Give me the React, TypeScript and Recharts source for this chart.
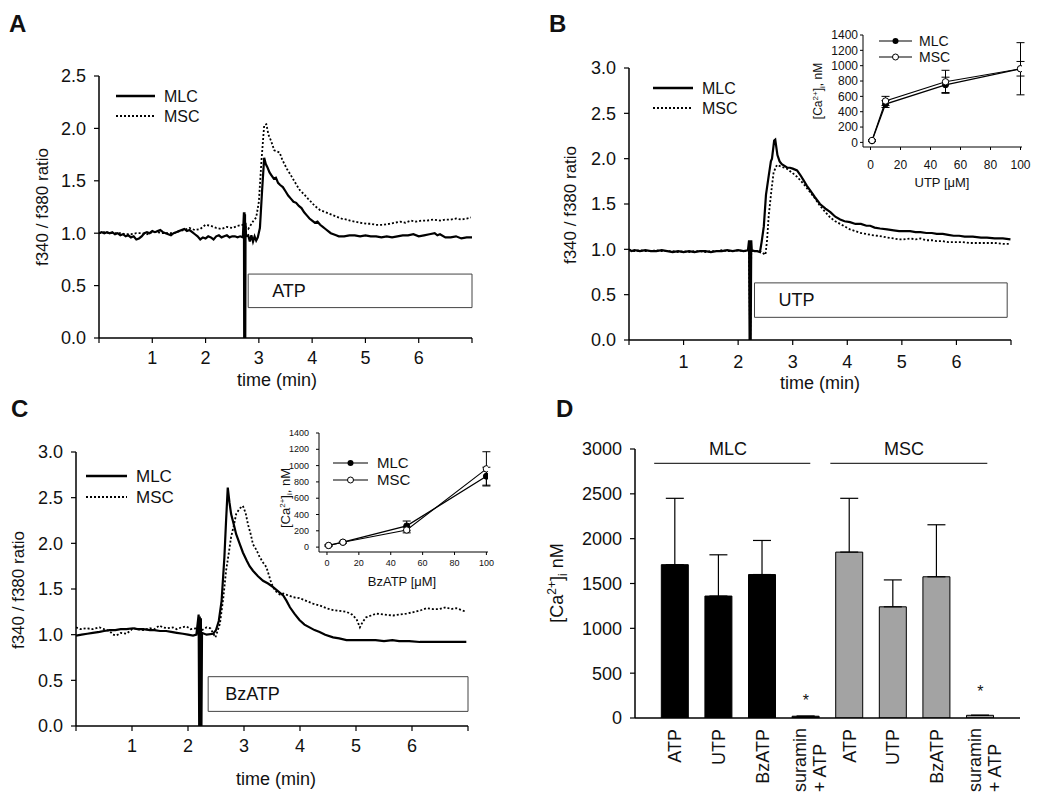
import React from "react";
import {
  LineChart,
  Line,
  XAxis,
  YAxis,
  ReferenceArea,
  ReferenceLine,
  ErrorBar,
  ComposedChart,
  Bar,
  Cell,
  Scatter,
} from "recharts";

const FONT = '"Liberation Sans", Arial, Helvetica, sans-serif';
const INK = "#111";

// ---- time courses, [time (min), f340/f380] ----
const atpMlc: [number, number][] = [
  [0, 1.0], [0.05, 1.01], [0.1, 1.0], [0.15, 1.01], [0.2, 1.0], [0.25, 1.01], [0.3, 0.99], [0.35, 1.0],
  [0.4, 0.98], [0.45, 0.99], [0.5, 0.97], [0.55, 0.98], [0.6, 0.96], [0.65, 0.97], [0.7, 0.94], [0.75, 0.95],
  [0.8, 0.97], [0.85, 1.0], [0.9, 1.01], [0.95, 1.0], [1.0, 1.02], [1.05, 1.01], [1.1, 1.02], [1.15, 1.03],
  [1.2, 1.01], [1.25, 1.0], [1.3, 0.99], [1.35, 0.98], [1.4, 1.0], [1.45, 1.01], [1.5, 1.02], [1.55, 1.03],
  [1.6, 1.04], [1.65, 1.02], [1.7, 1.03], [1.75, 1.01], [1.8, 0.99], [1.85, 0.97], [1.9, 0.94], [1.95, 0.96],
  [2.0, 0.95], [2.05, 0.97], [2.1, 0.96], [2.15, 0.94], [2.2, 0.97], [2.25, 0.98], [2.3, 0.96], [2.35, 0.97],
  [2.4, 0.98], [2.45, 0.96], [2.5, 0.97], [2.55, 0.97], [2.6, 0.96], [2.65, 0.97], [2.7, 0.96],
  [2.72, 1.2], [2.725, 0], [2.73, 1.2], [2.735, 0], [2.74, 1.18], [2.745, 0], [2.75, 1.1], [2.76, 0.97],
  [2.8, 0.98], [2.83, 0.92], [2.86, 0.98], [2.89, 0.92], [2.92, 0.97], [2.95, 0.93], [2.98, 0.96],
  [3.02, 1.05], [3.06, 1.4], [3.1, 1.72], [3.13, 1.66], [3.16, 1.63], [3.2, 1.58], [3.24, 1.55], [3.28, 1.52],
  [3.32, 1.53], [3.36, 1.48], [3.4, 1.46], [3.45, 1.44], [3.5, 1.4], [3.55, 1.36], [3.6, 1.33], [3.65, 1.3],
  [3.7, 1.29], [3.75, 1.26], [3.8, 1.24], [3.85, 1.2], [3.9, 1.17], [3.95, 1.14], [4.0, 1.12], [4.05, 1.1],
  [4.1, 1.11], [4.15, 1.08], [4.2, 1.06], [4.25, 1.04], [4.3, 1.02], [4.35, 1.0], [4.4, 0.99], [4.45, 0.98],
  [4.5, 0.97], [4.6, 0.97], [4.7, 0.98], [4.8, 0.98], [4.9, 0.97], [5.0, 0.98], [5.1, 0.97], [5.2, 0.97],
  [5.3, 0.96], [5.4, 0.97], [5.5, 0.96], [5.6, 0.97], [5.7, 0.98], [5.8, 0.98], [5.9, 0.99], [6.0, 0.97],
  [6.1, 0.98], [6.2, 0.99], [6.3, 1.0], [6.35, 0.98], [6.4, 0.99], [6.5, 0.96], [6.6, 0.96], [6.7, 0.97],
  [6.8, 0.95], [6.9, 0.96], [7.0, 0.96],
];
const atpMsc: [number, number][] = [
  [0, 1.0], [0.1, 1.01], [0.2, 1.0], [0.3, 1.0], [0.4, 1.0], [0.5, 0.99], [0.6, 0.99], [0.7, 1.0],
  [0.8, 1.0], [0.9, 0.99], [1.0, 1.01], [1.1, 1.01], [1.2, 1.0], [1.3, 1.0], [1.4, 1.0], [1.5, 1.02],
  [1.6, 1.03], [1.7, 1.05], [1.8, 1.03], [1.9, 1.04], [2.0, 1.08], [2.1, 1.07], [2.2, 1.05], [2.3, 1.04],
  [2.4, 1.06], [2.5, 1.05], [2.6, 1.07], [2.7, 1.08], [2.8, 1.04], [2.9, 1.12], [2.95, 1.15], [3.0, 1.3],
  [3.05, 1.7], [3.1, 2.03], [3.14, 2.04], [3.18, 1.94], [3.23, 1.88], [3.29, 1.79], [3.34, 1.78], [3.39, 1.77],
  [3.44, 1.7], [3.48, 1.66], [3.53, 1.61], [3.58, 1.57], [3.65, 1.51], [3.72, 1.45], [3.77, 1.41], [3.85, 1.37],
  [3.92, 1.33], [3.96, 1.31], [4.05, 1.26], [4.15, 1.22], [4.25, 1.2], [4.35, 1.18], [4.45, 1.16], [4.55, 1.14],
  [4.65, 1.13], [4.71, 1.12], [4.8, 1.11], [4.9, 1.1], [5.02, 1.09], [5.1, 1.09], [5.2, 1.08], [5.33, 1.08],
  [5.45, 1.09], [5.55, 1.1], [5.65, 1.11], [5.75, 1.1], [5.85, 1.12], [5.95, 1.11], [6.05, 1.12], [6.15, 1.12],
  [6.27, 1.13], [6.4, 1.12], [6.5, 1.13], [6.6, 1.13], [6.7, 1.14], [6.8, 1.13], [6.9, 1.14], [6.98, 1.15],
];

const utpMlc: [number, number][] = [
  [0, 1.0], [0.05, 0.98], [0.1, 0.99], [0.2, 0.98], [0.3, 0.99], [0.4, 0.98], [0.5, 0.98], [0.6, 0.99],
  [0.7, 0.98], [0.8, 0.97], [0.9, 0.98], [1.0, 0.97], [1.1, 0.98], [1.2, 0.97], [1.3, 0.98], [1.4, 0.98],
  [1.5, 0.97], [1.6, 0.98], [1.7, 0.98], [1.8, 0.99], [1.9, 0.98], [2.0, 0.99], [2.1, 0.98], [2.18, 0.99],
  [2.2, 1.1], [2.21, 0], [2.22, 1.1], [2.23, 0], [2.24, 1.1], [2.25, 0.99], [2.3, 0.98], [2.35, 0.98],
  [2.4, 0.97], [2.43, 1.08], [2.47, 1.25], [2.51, 1.6], [2.56, 1.81], [2.6, 1.97], [2.62, 2.0], [2.66, 2.2],
  [2.68, 2.21], [2.72, 2.04], [2.76, 1.97], [2.8, 1.94], [2.85, 1.92], [2.9, 1.9], [2.95, 1.9], [3.0, 1.89],
  [3.08, 1.87], [3.14, 1.82], [3.2, 1.76], [3.26, 1.7], [3.32, 1.65], [3.4, 1.58], [3.5, 1.5], [3.6, 1.45],
  [3.69, 1.41], [3.78, 1.36], [3.87, 1.33], [3.95, 1.31], [4.05, 1.3], [4.15, 1.28], [4.25, 1.28], [4.35, 1.26],
  [4.42, 1.26], [4.5, 1.24], [4.6, 1.23], [4.73, 1.22], [4.85, 1.21], [4.95, 1.2], [5.03, 1.2], [5.15, 1.2],
  [5.25, 1.19], [5.34, 1.19], [5.45, 1.18], [5.55, 1.18], [5.64, 1.17], [5.75, 1.17], [5.85, 1.16], [5.95, 1.15],
  [6.05, 1.15], [6.15, 1.14], [6.3, 1.14], [6.45, 1.13], [6.56, 1.13], [6.7, 1.12], [6.85, 1.12], [6.99, 1.11],
];
const utpMsc: [number, number][] = [
  [0, 0.99], [0.1, 0.98], [0.2, 0.99], [0.3, 0.98], [0.4, 0.98], [0.5, 0.99], [0.6, 0.98], [0.7, 0.98],
  [0.8, 0.98], [0.9, 0.97], [1.0, 0.98], [1.1, 0.97], [1.2, 0.98], [1.3, 0.98], [1.4, 0.97], [1.5, 0.98],
  [1.6, 0.98], [1.7, 0.99], [1.8, 0.98], [1.9, 0.98], [2.0, 0.99], [2.1, 0.98], [2.2, 0.99], [2.22, 0],
  [2.24, 0.98], [2.3, 0.98], [2.4, 0.98], [2.5, 0.94], [2.53, 1.1], [2.56, 1.37], [2.61, 1.65], [2.65, 1.85],
  [2.71, 1.93], [2.8, 1.91], [2.89, 1.89], [3.0, 1.84], [3.08, 1.8], [3.2, 1.72], [3.32, 1.63], [3.41, 1.56],
  [3.5, 1.48], [3.6, 1.41], [3.69, 1.35], [3.78, 1.31], [3.87, 1.28], [3.96, 1.25], [4.05, 1.22], [4.15, 1.2],
  [4.25, 1.18], [4.35, 1.17], [4.42, 1.16], [4.55, 1.15], [4.65, 1.14], [4.73, 1.13], [4.85, 1.12], [4.95, 1.11],
  [5.03, 1.11], [5.15, 1.12], [5.25, 1.11], [5.34, 1.12], [5.45, 1.1], [5.55, 1.1], [5.64, 1.09], [5.75, 1.09],
  [5.85, 1.08], [5.95, 1.08], [6.1, 1.08], [6.25, 1.07], [6.4, 1.07], [6.56, 1.07], [6.7, 1.07], [6.85, 1.06],
  [6.99, 1.06],
];

const bzMlc: [number, number][] = [
  [0, 0.99], [0.1, 1.0], [0.2, 1.01], [0.3, 1.02], [0.42, 1.03], [0.5, 1.04], [0.6, 1.05], [0.7, 1.05],
  [0.8, 1.06], [0.9, 1.06], [1.02, 1.07], [1.1, 1.06], [1.2, 1.06], [1.32, 1.05], [1.4, 1.05], [1.5, 1.04],
  [1.61, 1.04], [1.7, 1.03], [1.8, 1.02], [1.91, 1.01], [2.0, 1.0], [2.09, 0.99], [2.15, 1.0], [2.19, 1.22],
  [2.2, 0], [2.21, 1.2], [2.22, 0], [2.23, 1.18], [2.24, 0], [2.25, 1.02], [2.33, 1.0], [2.45, 1.01],
  [2.5, 1.05], [2.55, 1.15], [2.6, 1.37], [2.65, 1.85], [2.68, 2.25], [2.71, 2.61], [2.74, 2.45], [2.77, 2.32],
  [2.82, 2.2], [2.86, 2.1], [2.92, 2.0], [2.98, 1.9], [3.05, 1.81], [3.1, 1.75], [3.16, 1.7], [3.25, 1.64],
  [3.34, 1.59], [3.43, 1.56], [3.52, 1.52], [3.6, 1.48], [3.7, 1.43], [3.76, 1.37], [3.82, 1.3], [3.9, 1.23],
  [3.99, 1.16], [4.08, 1.11], [4.17, 1.08], [4.26, 1.05], [4.35, 1.03], [4.45, 1.0], [4.59, 0.97], [4.7, 0.96],
  [4.83, 0.94], [5.0, 0.94], [5.18, 0.94], [5.35, 0.94], [5.5, 0.93], [5.65, 0.94], [5.77, 0.93], [5.95, 0.93],
  [6.14, 0.92], [6.3, 0.92], [6.5, 0.92], [6.7, 0.92], [6.85, 0.92], [6.97, 0.92],
];
const bzMsc: [number, number][] = [
  [0, 1.08], [0.08, 1.06], [0.18, 1.07], [0.3, 1.06], [0.42, 1.08], [0.5, 1.06], [0.6, 1.04], [0.66, 1.0],
  [0.72, 0.99], [0.8, 1.02], [0.9, 1.01], [1.02, 1.07], [1.1, 1.06], [1.2, 1.05], [1.32, 1.07], [1.4, 1.06],
  [1.49, 1.1], [1.55, 1.08], [1.63, 1.07], [1.73, 1.08], [1.8, 1.06], [1.88, 1.08], [1.97, 1.09], [2.05, 1.06],
  [2.15, 1.07], [2.25, 1.05], [2.33, 1.08], [2.4, 1.07], [2.49, 0.97], [2.57, 1.12], [2.63, 1.4], [2.68, 1.7],
  [2.73, 1.9], [2.77, 2.07], [2.82, 2.2], [2.86, 2.32], [2.92, 2.38], [2.98, 2.41], [3.03, 2.33], [3.07, 2.21],
  [3.12, 2.1], [3.16, 1.99], [3.22, 1.93], [3.28, 1.85], [3.34, 1.79], [3.4, 1.74], [3.45, 1.64], [3.49, 1.56],
  [3.54, 1.5], [3.58, 1.47], [3.64, 1.44], [3.7, 1.45], [3.79, 1.43], [3.88, 1.41], [3.99, 1.4], [4.11, 1.37],
  [4.23, 1.34], [4.35, 1.32], [4.47, 1.29], [4.59, 1.27], [4.71, 1.26], [4.83, 1.25], [4.93, 1.22], [5.01, 1.17],
  [5.07, 1.08], [5.12, 1.14], [5.18, 1.19], [5.27, 1.21], [5.36, 1.23], [5.5, 1.22], [5.66, 1.21], [5.78, 1.22],
  [5.9, 1.23], [6.05, 1.25], [6.17, 1.27], [6.26, 1.29], [6.37, 1.28], [6.49, 1.28], [6.6, 1.3], [6.7, 1.28],
  [6.79, 1.29], [6.88, 1.27], [6.97, 1.25],
];

const timeTicks = [0, 1, 2, 3, 4, 5, 6, 7];
const ratioTicksA = [0, 0.5, 1, 1.5, 2, 2.5];
const ratioTicksBC = [0, 0.5, 1, 1.5, 2, 2.5, 3];

// ---- dose response insets ----
const doses = [1, 10, 50, 100];
const doseTicks = [0, 20, 40, 60, 80, 100];
const caTicks = [0, 200, 400, 600, 800, 1000, 1200, 1400];
const utpDoseMlc = [20, 500, 750, 960];
const utpDoseMlcErr = [10, 45, 100, 95];
const utpDoseMsc = [25, 540, 790, 960];
const utpDoseMscErr = [10, 60, 150, 340];
const bzDoseMlc = [20, 60, 260, 870];
const bzDoseMlcErr = [8, 10, 60, 110];
const bzDoseMsc = [20, 60, 210, 960];
const bzDoseMscErr = [8, 10, 35, 210];

// ---- D: peak [Ca2+]i ----
const dLabels = ["ATP", "UTP", "BzATP", "suramin|+ ATP", "ATP", "UTP", "BzATP", "suramin|+ ATP"];
const dGroups = ["MLC", "MLC", "MLC", "MLC", "MSC", "MSC", "MSC", "MSC"];
const dMean = [1710, 1360, 1600, 20, 1850, 1240, 1575, 30];
const dErr = [740, 460, 380, 0, 600, 300, 580, 0];
const dStars = [{ x: 4, s: 234 }, { x: 8, s: 334 }];
const dTicks = [0, 500, 1000, 1500, 2000, 2500, 3000];

const toPts = (a: [number, number][]) => a.map(([t, v]) => ({ t, v }));
const axisStyle = { stroke: "#000", strokeWidth: 1.5 };
const tickStyle = { stroke: "#000", strokeWidth: 1.2 };

function TracePanel(props: any) {
  const { left, top, width, height, margin, yMax, yTicks, mlc, msc, box, xGap } = props;
  return (
    <div style={{ position: "absolute", left, top }}>
      <LineChart width={width} height={height} margin={margin}>
        <XAxis
          type="number"
          dataKey="t"
          domain={[0, 7]}
          ticks={timeTicks}
          interval={0}
          allowDataOverflow
          tickFormatter={(v: number) => (v === 0 || v === 7 ? "" : String(v))}
          axisLine={axisStyle}
          tickLine={tickStyle}
          tickSize={5}
          tickMargin={xGap}
          tick={{ fill: INK, fontSize: 18 }}
          height={40}
        />
        <YAxis
          type="number"
          domain={[0, yMax]}
          ticks={yTicks}
          interval={0}
          allowDataOverflow
          tickFormatter={(v: number) => v.toFixed(1)}
          axisLine={axisStyle}
          tickLine={tickStyle}
          tickSize={5}
          tickMargin={8}
          tick={{ fill: INK, fontSize: 18 }}
          width={60}
        />
        <ReferenceArea
          x1={box.x1}
          x2={box.x2}
          y1={box.y1}
          y2={box.y2}
          fill="#fff"
          fillOpacity={1}
          stroke="#444"
          strokeWidth={1}
          ifOverflow="visible"
          label={{ value: box.label, position: "insideLeft", offset: box.offset, fill: INK, fontSize: 18 }}
        />
        <Line data={toPts(msc)} dataKey="v" type="linear" stroke="#000" strokeWidth={1.8}
          strokeDasharray="2 2" dot={false} isAnimationActive={false} />
        <Line data={toPts(mlc)} dataKey="v" type="linear" stroke="#000" strokeWidth={2.2}
          dot={false} isAnimationActive={false} />
      </LineChart>
    </div>
  );
}

function DoseInset(props: any) {
  const { left, top, width, height, margin, yWidth, fs, yGap, xGap, mlc, mlcErr, msc, mscErr } = props;
  const mlcData = doses.map((d, i) => ({ d, v: mlc[i], e: mlcErr[i] }));
  const mscData = doses.map((d, i) => ({ d, v: msc[i], e: mscErr[i] }));
  const ax = { stroke: "#000", strokeWidth: 1 };
  return (
    <div style={{ position: "absolute", left, top }}>
      <LineChart width={width} height={height} margin={margin}>
        <XAxis type="number" dataKey="d" domain={[-5, 101]} ticks={doseTicks} interval={0} allowDataOverflow
          axisLine={ax} tickLine={ax} tickSize={3} tickMargin={xGap} tick={{ fill: INK, fontSize: fs }} height={25} />
        <YAxis type="number" domain={[-60, 1400]} ticks={caTicks} interval={0} allowDataOverflow
          axisLine={ax} tickLine={ax} tickSize={3} tickMargin={yGap} tick={{ fill: INK, fontSize: fs }} width={yWidth} />
        <Line data={mlcData} dataKey="v" type="linear" stroke="#000" strokeWidth={1.3}
          dot={{ r: 3, fill: "#000", stroke: "#000", strokeWidth: 1 }} isAnimationActive={false}>
          <ErrorBar dataKey="e" width={4} stroke="#000" strokeWidth={1} direction="y" />
        </Line>
        <Line data={mscData} dataKey="v" type="linear" stroke="#000" strokeWidth={1.1}
          dot={{ r: 3.2, fill: "#fff", stroke: "#000", strokeWidth: 1 }} isAnimationActive={false}>
          <ErrorBar dataKey="e" width={4} stroke="#000" strokeWidth={1} direction="y" />
        </Line>
      </LineChart>
    </div>
  );
}

function CatTick(props: any) {
  const { x, y, payload } = props;
  const label = dLabels[payload.value - 1];
  if (!label) return null;
  const parts = label.split("|");
  if (parts.length === 1) {
    return (
      <text transform={`rotate(-90, ${x}, ${y})`} x={x} y={y} dy="0.35em" textAnchor="end" fontSize={18} fill={INK}>
        {label}
      </text>
    );
  }
  const yb = y + 63;
  return (
    <g>
      <text transform={`rotate(-90, ${x - 6}, ${yb})`} x={x - 6} y={yb} dy="0.35em" textAnchor="start" fontSize={18} fill={INK}>
        {parts[0]}
      </text>
      <text transform={`rotate(-90, ${x + 14}, ${yb})`} x={x + 14} y={yb} dy="0.35em" textAnchor="start" fontSize={18} fill={INK}>
        {parts[1]}
      </text>
    </g>
  );
}

const Star = (p: any) => (
  <text x={p.cx} y={p.cy} dy="0.57em" textAnchor="middle" fontSize={16} fill={INK}>*</text>
);

function BarPanel() {
  const data = dLabels.map((l, i) => ({ x: i + 1, mean: dMean[i], err: [0, dErr[i]], group: dGroups[i] }));
  return (
    <div style={{ position: "absolute", left: 540, top: 400 }}>
      <ComposedChart width={510} height={394} margin={{ top: 49, right: 30, bottom: 6, left: 15 }} data={data}>
        <XAxis type="number" dataKey="x" domain={[0.08, 8.91]} ticks={[1, 2, 3, 4, 5, 6, 7, 8]} interval={0}
          allowDataOverflow axisLine={axisStyle} tickLine={false} tickSize={0} tickMargin={11}
          tick={<CatTick />} height={70} />
        <YAxis type="number" domain={[0, 3000]} ticks={dTicks} interval={0} allowDataOverflow
          axisLine={axisStyle} tickLine={tickStyle} tickSize={5} tickMargin={8}
          tick={{ fill: INK, fontSize: 18 }} width={80} />
        <Bar dataKey="mean" barSize={27} isAnimationActive={false}>
          {data.map((r, i) => (
            <Cell key={i} fill={r.group === "MLC" ? "#000" : "#a3a3a3"} stroke="#000" strokeWidth={1} />
          ))}
          <ErrorBar dataKey="err" width={9} stroke="#000" strokeWidth={1.2} direction="y" />
        </Bar>
        <ReferenceLine segment={[{ x: 0.52, y: 2840 }, { x: 4.1, y: 2840 }]} stroke="#333" strokeWidth={1.2} ifOverflow="visible" />
        <ReferenceLine segment={[{ x: 4.56, y: 2840 }, { x: 8.16, y: 2840 }]} stroke="#333" strokeWidth={1.2} ifOverflow="visible" />
        <Scatter data={dStars} dataKey="s" shape={Star} isAnimationActive={false} />
      </ComposedChart>
    </div>
  );
}

function CaTitle({ x, y, fs }: { x: number; y: number; fs: number }) {
  const s = Math.round(fs * 0.65);
  return (
    <text transform={`translate(${x},${y}) rotate(-90)`} textAnchor="middle" dy="0.35em" fontSize={fs} fill={INK}>
      [Ca<tspan dy={-fs * 0.38} fontSize={s}>2+</tspan>
      <tspan dy={fs * 0.38}>]</tspan>
      <tspan dy={fs * 0.2} fontSize={s}>i</tspan>
      <tspan dy={-fs * 0.2}>, nM</tspan>
    </text>
  );
}

function LegendItem({ x1, x2, y, tx, label, dotted, marker, fs }: any) {
  return (
    <g>
      <line x1={x1} x2={x2} y1={y} y2={y} stroke="#000" strokeWidth={marker ? 1.2 : dotted ? 1.8 : 2.5}
        strokeDasharray={dotted ? "2 2" : undefined} />
      {marker === "filled" && <circle cx={(x1 + x2) / 2} cy={y} r={3} fill="#000" />}
      {marker === "open" && <circle cx={(x1 + x2) / 2} cy={y} r={3} fill="#fff" stroke="#000" strokeWidth={1} />}
      <text x={tx} y={y} dy="0.35em" fontSize={fs} fill={INK}>{label}</text>
    </g>
  );
}

function Overlay() {
  return (
    <svg width={1050} height={794} style={{ position: "absolute", left: 0, top: 0, pointerEvents: "none" }}>
      <g fontWeight="bold" fontSize={24} fill={INK}>
        <text x={9} y={32}>A</text>
        <text x={549} y={32}>B</text>
        <text x={11} y={417}>C</text>
        <text x={556} y={417}>D</text>
      </g>
      <g fontSize={17} fill={INK} textAnchor="middle">
        <text transform="translate(42,207) rotate(-90)" dy="0.35em">f340 / f380 ratio</text>
        <text transform="translate(570,205) rotate(-90)" dy="0.35em">f340 / f380 ratio</text>
        <text transform="translate(18,590) rotate(-90)" dy="0.35em">f340 / f380 ratio</text>
      </g>
      <g fontSize={18} fill={INK} textAnchor="middle">
        <text x={277} y={386}>time (min)</text>
        <text x={820} y={389}>time (min)</text>
        <text x={276} y={785}>time (min)</text>
        <text x={728} y={455}>MLC</text>
        <text x={904} y={455}>MSC</text>
      </g>
      <text transform="translate(557,583) rotate(-90)" textAnchor="middle" dy="0.35em" fontSize={18} fill={INK}>
        [Ca<tspan dy={-7} fontSize={12}>2+</tspan>
        <tspan dy={7}>]</tspan>
        <tspan dy={4} fontSize={12}>i</tspan>
        <tspan dy={-4}> nM</tspan>
      </text>

      <LegendItem x1={116} x2={155} y={96} tx={164} label="MLC" fs={16} />
      <LegendItem x1={116} x2={155} y={116} tx={164} label="MSC" fs={16} dotted />
      <LegendItem x1={653} x2={693} y={88} tx={702} label="MLC" fs={16} />
      <LegendItem x1={653} x2={693} y={108} tx={702} label="MSC" fs={16} dotted />
      <LegendItem x1={86} x2={127} y={476} tx={136} label="MLC" fs={17} />
      <LegendItem x1={86} x2={127} y={497} tx={136} label="MSC" fs={17} dotted />

      <LegendItem x1={879} x2={912} y={41} tx={919} label="MLC" fs={14} marker="filled" />
      <LegendItem x1={879} x2={912} y={57} tx={919} label="MSC" fs={14} marker="open" />
      <CaTitle x={818} y={91} fs={12} />
      <text x={942} y={182} dy="0.35em" textAnchor="middle" fontSize={13} fill={INK}>UTP [μM]</text>

      <LegendItem x1={333} x2={368} y={463} tx={377} label="MLC" fs={15} marker="filled" />
      <LegendItem x1={333} x2={368} y={480} tx={377} label="MSC" fs={15} marker="open" />
      <CaTitle x={285} y={498} fs={13} />
      <text x={402} y={581} dy="0.35em" textAnchor="middle" fontSize={13} fill={INK}>BzATP [μM]</text>
    </svg>
  );
}

export default function App() {
  return (
    <div style={{ position: "absolute", left: 0, top: 0, width: 1050, height: 794, background: "#fff", fontFamily: FONT }}>
      <TracePanel left={0} top={0} width={520} height={400} margin={{ top: 76, right: 48, bottom: 22, left: 39 }}
        yMax={2.5} yTicks={ratioTicksA} mlc={atpMlc} msc={atpMsc} xGap={8.5}
        box={{ x1: 2.8, x2: 7, y1: 0.29, y2: 0.61, label: "ATP", offset: 24 }} />
      <TracePanel left={520} top={0} width={530} height={400} margin={{ top: 68, right: 39, bottom: 20, left: 49 }}
        yMax={3} yTicks={ratioTicksBC} mlc={utpMlc} msc={utpMsc} xGap={10}
        box={{ x1: 2.3, x2: 6.93, y1: 0.25, y2: 0.63, label: "UTP", offset: 24 }} />
      <TracePanel left={0} top={390} width={520} height={404} margin={{ top: 62, right: 52, bottom: 28, left: 16 }}
        yMax={3} yTicks={ratioTicksBC} mlc={bzMlc} msc={bzMsc} xGap={8.5}
        box={{ x1: 2.36, x2: 7, y1: 0.16, y2: 0.54, label: "BzATP", offset: 17 }} />
      <BarPanel />
      <DoseInset left={800} top={20} width={240} height={180} margin={{ top: 15, right: 18, bottom: 28, left: 18 }}
        yWidth={45} fs={12} yGap={2} xGap={10}
        mlc={utpDoseMlc} mlcErr={utpDoseMlcErr} msc={utpDoseMsc} mscErr={utpDoseMscErr} />
      <DoseInset left={260} top={410} width={250} height={180} margin={{ top: 23, right: 22, bottom: 13, left: 19 }}
        yWidth={40} fs={9} yGap={7} xGap={5}
        mlc={bzDoseMlc} mlcErr={bzDoseMlcErr} msc={bzDoseMsc} mscErr={bzDoseMscErr} />
      <Overlay />
    </div>
  );
}
